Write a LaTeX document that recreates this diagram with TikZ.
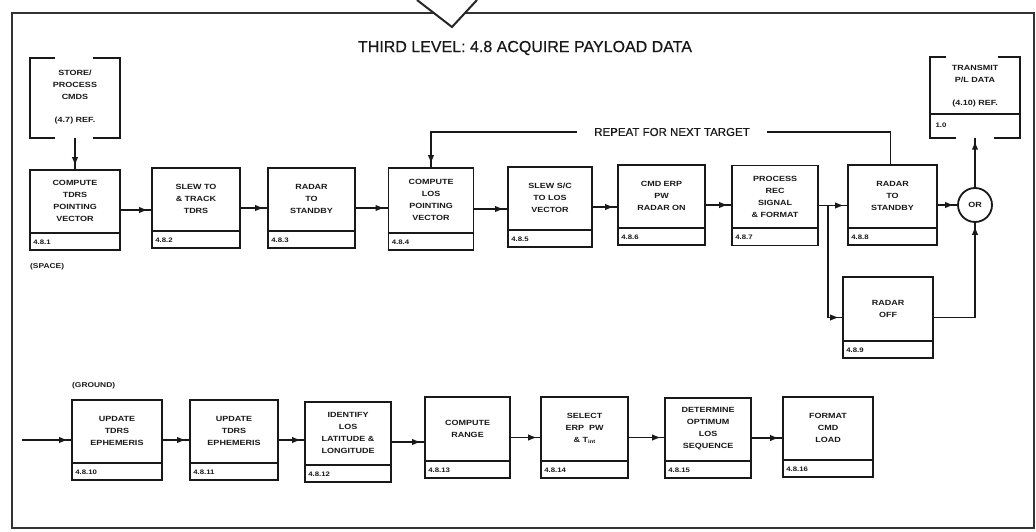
\documentclass[tikz,border=0pt]{standalone}
\usepackage{fontspec}
\setmainfont{Liberation Sans}
\newfontfamily\boxfont[FakeStretch=1.2]{Liberation Sans}
\newfontfamily\titlefont[FakeBold=0.5]{Liberation Sans}
\usetikzlibrary{arrows.meta,calc}
\tikzset{
  pbox/.style={draw=black!90, line width=1.8pt, rectangle, inner sep=0pt},
  divline/.style={draw=black!90, line width=2pt},
  boxtext/.style={font=\boxfont\bfseries\fontsize{7.5}{12}\selectfont, align=center, text=black!90, inner sep=0pt},
  idtext/.style={font=\boxfont\bfseries\fontsize{6.5}{6.5}\selectfont, text=black!90, inner sep=0pt},
  lbl/.style={font=\boxfont\bfseries\fontsize{7}{7}\selectfont, text=black!90, inner sep=0pt},
  conn/.style={draw=black!90, line width=1.6pt},
  arr/.style={conn, postaction={draw, -{Latex[length=9pt,width=6.5pt]}, shorten >=3pt}},
  bracket/.style={draw=black!90, line width=2pt},
}
\newcommand\procbox[7]{%
  \node[pbox, minimum width=#4pt, minimum height=#5pt] (#1) at (#2,#3) {};
  \draw[divline] ([yshift=18pt]#1.south west) -- ([yshift=18pt]#1.south east);
  \node[boxtext] (#1t) at ([yshift=9pt]#1.center) {#6};
  \node[idtext, anchor=west] (#1i) at ([xshift=4pt,yshift=9pt]#1.south west) {#7};
}
\begin{document}
\begin{tikzpicture}[x=1pt,y=-1pt]
\useasboundingbox (0,0) rectangle (1036,532);
% frame
\draw[black!80, line width=2.6pt] (12,13) rectangle (1034,528);
\fill[white] (417,0) -- (452,27) -- (477,0) -- cycle;
\draw[black!85, line width=2pt] (417,0) -- (452,27) -- (477,0);
\node[font=\titlefont\fontsize{16}{18}\selectfont, text=black!90, inner sep=0pt] (title) at (525,48) {THIRD LEVEL: 4.8 ACQUIRE PAYLOAD DATA};

% external references
\node[minimum width=90pt, minimum height=80pt, inner sep=0pt] (store) at (75,98) {};
\draw[bracket] ([xshift=25pt]store.north west) -- (store.north west) -- (store.south west) -- ([xshift=25pt]store.south west);
\draw[bracket] ([xshift=-27pt]store.north east) -- (store.north east) -- (store.south east) -- ([xshift=-27pt]store.south east);
\node[boxtext] (storet) at (75,97) {STORE/\\PROCESS\\CMDS\\[11pt](4.7) REF.};

\node[minimum width=89pt, minimum height=80pt, inner sep=0pt] (trans) at (975,97.5) {};
\draw[bracket] ([xshift=16pt]trans.north west) -- (trans.north west) -- (trans.south west) -- ([xshift=26pt]trans.south west);
\draw[bracket] ([xshift=-22pt]trans.north east) -- (trans.north east) -- (trans.south east) -- ([xshift=-26pt]trans.south east);
\draw[divline] ([yshift=24pt]trans.south west) -- ([yshift=24pt]trans.south east);
\node[boxtext] (transt) at (975,86) {TRANSMIT\\P/L DATA\\[11pt](4.10) REF.};
\node[idtext, anchor=west] (transi) at ([xshift=5pt,yshift=12pt]trans.south west) {1.0};

% space row
\procbox{b1}{75}{210}{90}{80}{COMPUTE\\TDRS\\POINTING\\VECTOR}{4.8.1}
\procbox{b2}{196}{208}{88}{80}{SLEW TO\\\& TRACK\\TDRS}{4.8.2}
\procbox{b3}{311.5}{208}{87}{80}{RADAR\\TO\\STANDBY}{4.8.3}
\procbox{b4}{431}{209}{85}{82}{COMPUTE\\LOS\\POINTING\\VECTOR}{4.8.4}
\procbox{b5}{550}{207}{84}{80}{SLEW S/C\\TO LOS\\VECTOR}{4.8.5}
\procbox{b6}{661.5}{205}{87}{80}{CMD ERP\\PW\\RADAR ON}{4.8.6}
\procbox{b7}{775}{205.5}{86}{80}{PROCESS\\REC\\SIGNAL\\\& FORMAT}{4.8.7}
\procbox{b8}{892.5}{205}{89}{80}{RADAR\\TO\\STANDBY}{4.8.8}
\procbox{b9}{888}{317.5}{90}{81}{RADAR\\OFF}{4.8.9}
\node[pbox, circle, minimum size=34pt, boxtext] (or) at (975,205) {OR};

\node[lbl, anchor=west] (space) at (30,267) {(SPACE)};

% ground row
\node[lbl, anchor=west] (ground) at (72,386) {(GROUND)};
\procbox{b10}{117}{440}{90}{80}{UPDATE\\TDRS\\EPHEMERIS}{4.8.10}
\procbox{b11}{234}{440}{88}{80}{UPDATE\\TDRS\\EPHEMERIS}{4.8.11}
\procbox{b12}{348}{442}{86}{80}{IDENTIFY\\LOS\\LATITUDE \&\\LONGITUDE}{4.8.12}
\procbox{b13}{467.5}{437.5}{85}{81}{COMPUTE\\RANGE}{4.8.13}
\procbox{b14}{584.5}{437.5}{87}{81}{SELECT\\ERP~~PW\\\& T\raisebox{-1.5pt}{\fontsize{5}{5}\selectfont int}}{4.8.14}
\procbox{b15}{708}{438}{86}{80}{DETERMINE\\OPTIMUM\\LOS\\SEQUENCE}{4.8.15}
\procbox{b16}{828}{437}{90}{80}{FORMAT\\CMD\\LOAD}{4.8.16}

% connectors, space row
\draw[arr] (store.south) -- (store.south |- b1.north);
\draw[arr] (b1.east) -- (b1.east -| b2.west);
\draw[arr] (b2.east) -- (b2.east -| b3.west);
\draw[arr] (b3.east) -- (b3.east -| b4.west);
\draw[arr] (b4.east) -- (b4.east -| b5.west);
\draw[arr] (b5.east) -- (b5.east -| b6.west);
\draw[arr] (b6.east) -- (b6.east -| b7.west);
\draw[arr] (b7.east) -- (b7.east -| b8.west);
\coordinate (j) at ([xshift=9pt]b7.east);
\draw[arr] (j) |- (b9.west);
\draw[arr] (b9.east) -| (or.south);
\draw[arr] (b8.east) -- (b8.east -| or.west);
\draw[arr] (or.north) -- (or.north |- trans.south);
\node[font=\titlefont\fontsize{11.5}{13}\selectfont, text=black!90, inner xsep=17pt, inner ysep=0pt] (rep) at (672,132) {REPEAT FOR NEXT TARGET};
\draw[conn] ([xshift=-2pt]b8.north) |- (rep.east);
\draw[arr] (rep.west) -| (b4.north);

% connectors, ground row
\coordinate (in) at (22,440);
\draw[arr] (in) -- (in -| b10.west);
\draw[arr] (b10.east) -- (b10.east -| b11.west);
\draw[arr] (b11.east) -- (b11.east -| b12.west);
\draw[arr] (b12.east) -- (b12.east -| b13.west);
\draw[arr] (b13.east) -- (b13.east -| b14.west);
\draw[arr] (b14.east) -- (b14.east -| b15.west);
\draw[arr] (b15.east) -- (b15.east -| b16.west);
\end{tikzpicture}
\end{document}
